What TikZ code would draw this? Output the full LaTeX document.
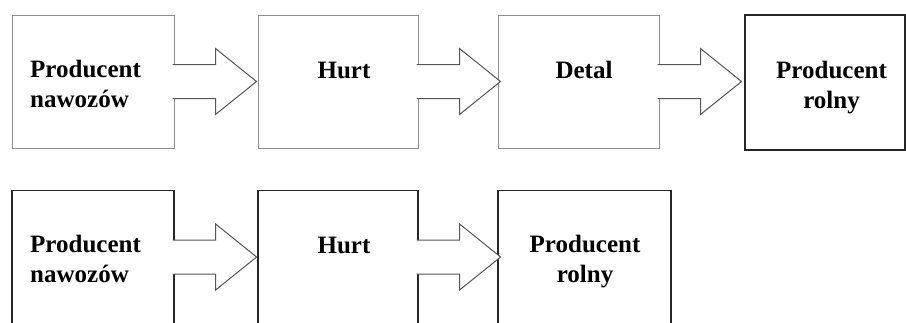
\documentclass[tikz,border=0pt]{standalone}
\usepackage{fontspec}
\setmainfont{Liberation Serif}
\usepackage{tikz}
\usetikzlibrary{calc}

\definecolor{edgegray}{RGB}{140,140,140}
\definecolor{arrowgray}{RGB}{85,85,85}

\tikzset{
  box/.style={draw=edgegray, line width=1pt, minimum height=133pt, inner sep=0pt},
  darkbox/.style={box, draw=black!85, line width=1.2pt},
  arrowbody/.style={draw=arrowgray, fill=white, line width=1pt, line join=miter},
  lbl/.style={font=\fontsize{25}{30}\selectfont\bfseries, align=center, inner sep=0pt},
  lblleft/.style={lbl, align=left}
}

% block arrow leaving a box on its east side
\newcommand{\blockarrow}[1]{%
  \draw[arrowbody] ($(#1.east)+(-2,-17)$) -- ++(43,0) -- ++(0,-16)
    -- ++(41,33) -- ++(-41,33) -- ++(0,-16) -- ++(-43,0);}

\begin{document}
\begin{tikzpicture}[x=1pt,y=-1pt]
\useasboundingbox (0,0) rectangle (906,322);
\clip (0,0) rectangle (906,322);

% first chain
\node[box, minimum width=162pt] (prod) at (93,81.5) {};
\node[box, minimum width=160pt] (hurt) at (338,81.5) {};
\node[box, minimum width=161pt] (detal) at (578.5,81.5) {};
\node[darkbox, minimum width=160pt, minimum height=135pt] (rolny) at (825,82.5) {};
\blockarrow{prod}
\blockarrow{hurt}
\blockarrow{detal}
\node[lblleft, anchor=base west] (prodtxt) at (30,107) {Producent\\nawozów};
\node[lbl, anchor=base] (hurttxt) at (344,78.5) {Hurt};
\node[lbl, anchor=base] (detaltxt) at (584,78) {Detal};
\node[lbl, anchor=base] (rolnytxt) at (831.5,108) {Producent\\rolny};

% second chain
\node[darkbox, minimum width=162pt] (prodb) at (93,257) {};
\node[darkbox, minimum width=160pt] (hurtb) at (338,257) {};
\node[darkbox, minimum width=173pt] (rolnyb) at (584.5,257) {};
\blockarrow{prodb}
\blockarrow{hurtb}
\node[lblleft, anchor=base west] (prodbtxt) at (30,282) {Producent\\nawozów};
\node[lbl, anchor=base] (hurtbtxt) at (344,253) {Hurt};
\node[lbl, anchor=base] (rolnybtxt) at (585,282) {Producent\\rolny};
\end{tikzpicture}
\end{document}
